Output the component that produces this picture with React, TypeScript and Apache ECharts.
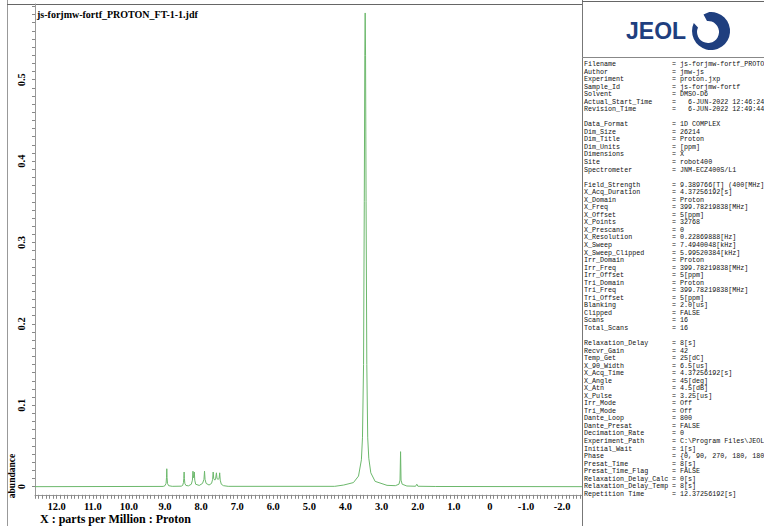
import React, { useEffect, useRef } from "react";
import * as echarts from "echarts";

const TITLE = "js-forjmw-fortf_PROTON_FT-1-1.jdf";
const X_AXIS_NAME = "X : parts per Million : Proton";
const Y_AXIS_NAME = "abundance";

const X_TICK_LABELS = [12, 11, 10, 9, 8, 7, 6, 5, 4, 3, 2, 1, 0, -1, -2];
const Y_TICK_LABELS = [0, 0.1, 0.2, 0.3, 0.4, 0.5];

// spectrum trace: chemical shift (ppm) and abundance
const SPECTRUM_PPM = [
  12.6, 9.05, 9.0, 8.97, 8.958, 8.95, 8.942, 8.93, 8.9, 8.8,
  8.55, 8.51, 8.488, 8.478, 8.47, 8.462, 8.45, 8.42, 8.35,
  8.27, 8.24, 8.225, 8.212, 8.2, 8.188, 8.175, 8.15, 8.05,
  7.96, 7.92, 7.905, 7.89, 7.86, 7.78,
  7.71, 7.68, 7.665, 7.65, 7.62, 7.6, 7.575, 7.56, 7.53, 7.5, 7.485, 7.47, 7.44, 7.38, 7.25,
  4.3, 4.05, 3.78, 3.64, 3.56, 3.53, 3.5, 3.48, 3.465, 3.455, 3.445, 3.43, 3.41, 3.385, 3.355, 3.3, 3.18, 2.85,
  2.62, 2.52, 2.49, 2.475, 2.462, 2.43, 2.3,
  2.06, 2.025, 1.995, 1.5, -2.55,
];
const SPECTRUM_ABUNDANCE = [
  0, 0.0003, 0.0012, 0.004, 0.011, 0.022, 0.011, 0.004, 0.0012, 0.0004,
  0.0006, 0.0015, 0.005, 0.01, 0.018, 0.01, 0.004, 0.0015, 0.001,
  0.003, 0.008, 0.019, 0.011, 0.012, 0.018, 0.008, 0.003, 0.0015,
  0.004, 0.009, 0.019, 0.009, 0.004, 0.002,
  0.004, 0.009, 0.018, 0.01, 0.008, 0.009, 0.017, 0.01, 0.009, 0.01, 0.017, 0.008, 0.003, 0.0012, 0.0004,
  0.0004, 0.002, 0.005, 0.013, 0.033, 0.06, 0.15, 0.35, 0.53, 0.582, 0.53, 0.35, 0.15, 0.06, 0.035, 0.017, 0.0065, 0.0016,
  0.0012, 0.003, 0.008, 0.043, 0.008, 0.003, 0.0008,
  0.0005, 0.003, 0.0005, 0.0002, 0,
];

const PARAM_NAMES = [
  "Filename", "Author", "Experiment", "Sample_Id", "Solvent", "Actual_Start_Time", "Revision_Time", "",
  "Data_Format", "Dim_Size", "Dim_Title", "Dim_Units", "Dimensions", "Site", "Spectrometer", "",
  "Field_Strength", "X_Acq_Duration", "X_Domain", "X_Freq", "X_Offset", "X_Points", "X_Prescans",
  "X_Resolution", "X_Sweep", "X_Sweep_Clipped", "Irr_Domain", "Irr_Freq", "Irr_Offset", "Tri_Domain",
  "Tri_Freq", "Tri_Offset", "Blanking", "Clipped", "Scans", "Total_Scans", "",
  "Relaxation_Delay", "Recvr_Gain", "Temp_Get", "X_90_Width", "X_Acq_Time", "X_Angle", "X_Atn",
  "X_Pulse", "Irr_Mode", "Tri_Mode", "Dante_Loop", "Dante_Presat", "Decimation_Rate",
  "Experiment_Path", "Initial_Wait", "Phase", "Presat_Time", "Presat_Time_Flag",
  "Relaxation_Delay_Calc", "Relaxation_Delay_Temp", "Repetition Time",
];
const PARAM_VALUES = [
  "js-forjmw-fortf_PROTON_FT-1-1.jdf", "jmw-js", "proton.jxp", "js-forjmw-fortf", "DMSO-D6",
  "  6-JUN-2022 12:46:24", "  6-JUN-2022 12:49:44", "",
  "1D COMPLEX", "26214", "Proton", "[ppm]", "X", "robot400", "JNM-ECZ400S/L1", "",
  "9.389766[T] (400[MHz])", "4.37256192[s]", "Proton", "399.78219838[MHz]", "5[ppm]", "32768", "0",
  "0.22869888[Hz]", "7.4940048[kHz]", "5.99520384[kHz]", "Proton", "399.78219838[MHz]", "5[ppm]", "Proton",
  "399.78219838[MHz]", "5[ppm]", "2.0[us]", "FALSE", "16", "16", "",
  "8[s]", "42", "25[dC]", "6.5[us]", "4.37256192[s]", "45[deg]", "4.5[dB]",
  "3.25[us]", "Off", "Off", "800", "FALSE", "0",
  "C:\\Program Files\\JEOL\\Delta\\exp", "1[s]", "{0, 90, 270, 180, 180, 270, 90, 0}", "8[s]", "FALSE",
  "0[s]", "8[s]", "12.37256192[s]",
];

const SWIRL_D =
  "M -1.7 -18.9 A 19 19 0 1 1 -17.2 -8.0 L -13.0 -3.6 A 11 11 0 1 0 -4.0 -10.0 L -7.5 -16.5 Z";
echarts.graphic.registerShape("jeolSwirl", echarts.graphic.extendPath(SWIRL_D, {}));

const SERIF = "'Liberation Serif', 'Times New Roman', serif";
const MONO = "'Liberation Mono', 'Courier New', monospace";

export default function App() {
  const ref = useRef<HTMLDivElement>(null);
  useEffect(() => {
    const el = ref.current;
    if (!el) return;
    const chart = echarts.init(el, null, { renderer: "svg" });

    const xTicks: number[] = [];
    for (let i = -25; i <= 126; i++) xTicks.push(Math.round(i) / 10);
    const yTicks: number[] = [];
    for (let i = 0; i <= 59; i++) yTicks.push(Math.round(i) / 100);

    const panel: any[] = [];
    const lineH = 7.54;
    const charW = 4.02;
    PARAM_NAMES.forEach((name, i) => {
      if (!name) return;
      const y = 64 + i * lineH;
      const raw = PARAM_VALUES[i];
      const lead = raw.length - raw.replace(/^ +/, "").length;
      panel.push({
        type: "text", x: 584, y,
        style: { text: name, font: `6.7px ${MONO}`, fill: "#111", verticalAlign: "middle" },
      });
      panel.push({
        type: "text", x: 672, y,
        style: { text: "=", font: `6.7px ${MONO}`, fill: "#111", verticalAlign: "middle" },
      });
      panel.push({
        type: "text", x: 672 + (2 + lead) * charW, y,
        style: { text: raw.trim(), font: `6.7px ${MONO}`, fill: "#111", verticalAlign: "middle" },
      });
    });

    const option: any = {
      animation: false,
      backgroundColor: "#fff",
      grid: { left: 35, right: 182, top: 4, bottom: 31.2, containLabel: false },
      xAxis: {
        type: "value",
        inverse: true,
        min: -2.55,
        max: 12.6,
        axisLine: { show: true, onZero: false, lineStyle: { color: "#999", width: 1 } },
        axisTick: { show: true, customValues: xTicks, length: 4, lineStyle: { color: "#888" } },
        axisLabel: {
          customValues: X_TICK_LABELS,
          showMinLabel: true,
          showMaxLabel: true,
          formatter: (v: number) => (v === 0 ? "0" : v.toFixed(1)),
          fontFamily: SERIF, fontWeight: "bold", fontSize: 10.5, color: "#000", margin: 6,
        },
        splitLine: { show: false },
      },
      yAxis: {
        type: "value",
        min: -0.01,
        max: 0.593,
        axisLine: { show: true, onZero: false, lineStyle: { color: "#999", width: 1 } },
        axisTick: { show: true, customValues: yTicks, length: 3, lineStyle: { color: "#888" } },
        axisLabel: {
          customValues: Y_TICK_LABELS,
          showMinLabel: true,
          showMaxLabel: true,
          hideOverlap: false,
          rotate: 90,
          formatter: (v: number) => (Math.abs(v) < 1e-9 ? "0" : String(v)),
          fontFamily: SERIF, fontWeight: "bold", fontSize: 10.5, color: "#000", margin: 8,
        },
        splitLine: { show: false },
      },
      series: [
        {
          type: "line",
          data: SPECTRUM_PPM.map((x, i) => [x, SPECTRUM_ABUNDANCE[i]]),
          showSymbol: false,
          symbol: "none",
          lineStyle: { color: "#6cb86c", width: 1 },
          clip: true,
        },
      ],
      graphic: [
        // frame
        { type: "line", shape: { x1: 7.5, y1: 0, x2: 7.5, y2: 526 }, style: { stroke: "#999", lineWidth: 1 } },
        { type: "line", shape: { x1: 7, y1: 4.5, x2: 582, y2: 4.5 }, style: { stroke: "#666", lineWidth: 1.2 } },
        { type: "line", shape: { x1: 582.5, y1: 0, x2: 582.5, y2: 526 }, style: { stroke: "#777", lineWidth: 1 } },
        { type: "line", shape: { x1: 582, y1: 1.5, x2: 764, y2: 1.5 }, style: { stroke: "#666", lineWidth: 1.2 } },
        { type: "line", shape: { x1: 582, y1: 57.5, x2: 764, y2: 57.5 }, style: { stroke: "#888", lineWidth: 1 } },
        // title and axis names
        {
          type: "text", x: 37, y: 14,
          style: { text: TITLE, font: `bold 10px ${SERIF}`, fill: "#000", verticalAlign: "middle" },
        },
        {
          type: "text", x: 40, y: 519,
          style: { text: X_AXIS_NAME, font: `bold 12px ${SERIF}`, fill: "#000", verticalAlign: "middle" },
        },
        {
          type: "text", x: 12, y: 476, rotation: Math.PI / 2,
          style: { text: Y_AXIS_NAME, font: `bold 9.5px ${SERIF}`, fill: "#000", align: "center", verticalAlign: "middle" },
        },
        // logo
        {
          type: "text", x: 626, y: 31,
          style: { text: "JEOL", font: `bold 23px 'Liberation Sans', Arial, sans-serif`, fill: "#1f3f7f", verticalAlign: "middle" },
        },
        { type: "jeolSwirl", x: 711, y: 31, style: { fill: "#1f3f7f" } },
        ...panel,
      ],
    };
    chart.setOption(option);
    return () => chart.dispose();
  }, []);
  return (
    <div
      ref={ref}
      style={{ position: "fixed", left: 0, top: 0, width: 764, height: 526, overflow: "hidden", background: "#fff" }}
    />
  );
}
